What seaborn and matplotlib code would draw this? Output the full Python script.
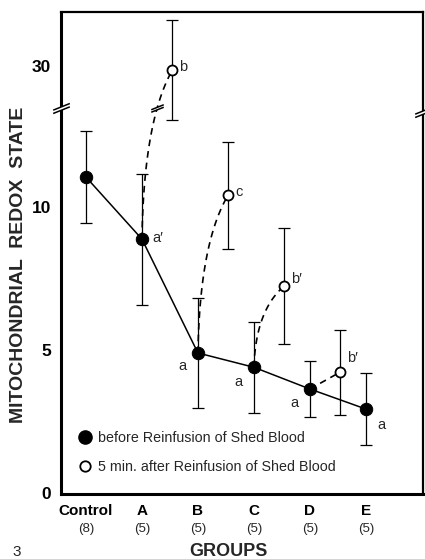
import numpy as np
import pandas as pd
import matplotlib
matplotlib.use("Agg")
import matplotlib.pyplot as plt
from matplotlib.lines import Line2D
from matplotlib.path import Path
import seaborn as sns

sns.set_style("white")
plt.rcParams["font.family"] = ["Liberation Sans", "DejaVu Sans"]

# values
groups = ["Control", "A", "B", "C", "D", "E"]
group_n = ["(8)", "(5)", "(5)", "(5)", "(5)", "(5)"]

before_mean = [11.05, 8.88, 4.9, 4.4, 3.64, 2.94]
before_sd = [1.6, 2.29, 1.93, 1.6, 0.98, 1.27]
before_tag = ["", "a\u2032", "a", "a", "a", "a"]

after_group = ["A", "B", "C", "D"]
after_mean = [29.85, 10.42, 7.24, 4.23]
after_sd = [1.75, 1.87, 2.03, 1.49]
after_tag = ["b", "c", "b\u2032", "b\u2032"]

# broken y axis: values around 30 are drawn shifted down
BREAK_AT = 13.46
SHIFT = 15.07


def squash(v):
    v = np.asarray(v, dtype=float)
    return np.where(v > 20, v - SHIFT, v)


# break marker "//" shapes
SLASH = Path([(-1, -0.6), (1, 0.2), (-1, -0.2), (1, 0.6)],
             [Path.MOVETO, Path.LINETO, Path.MOVETO, Path.LINETO])
GAP = Path([(-1, -0.6), (1, 0.2), (1, 0.6), (-1, -0.2), (-1, -0.6)],
           [Path.MOVETO, Path.LINETO, Path.LINETO, Path.LINETO, Path.CLOSEPOLY])


def break_mark(ax, x, y, size, transform):
    ax.plot([x], [y], marker=GAP, ms=size, mfc="white", mec="white", mew=0,
            transform=transform, clip_on=False, zorder=6)
    ax.plot([x], [y], marker=SLASH, ms=size, mfc="none", mec="black", mew=1.1,
            transform=transform, clip_on=False, zorder=7)


fig = plt.figure(figsize=(4.25, 5.59), dpi=100)
ax = fig.add_axes([61 / 425, 1 - 494 / 559, 362 / 425, 482 / 559])

x_before = np.arange(len(groups))
y_before = squash(before_mean)
x_after = np.array([groups.index(g) for g in after_group]) + 0.54
y_after = squash(after_mean)

df_before = pd.DataFrame({"x": x_before, "y": y_before})
df_after = pd.DataFrame({"x": x_after, "y": y_after})

# dashed curves from the "before" point up to the "after" point
for i, g in enumerate(after_group):
    j = groups.index(g)
    x0, y0, x1, y1 = x_before[j], y_before[j], x_after[i], y_after[i]
    t = np.linspace(0, 1, 60)
    if y1 - y0 > 1.5:
        cx, cy = x0 + 0.06 * (x1 - x0), y0 + 0.7 * (y1 - y0)
    else:
        cx, cy = (x0 + x1) / 2, (y0 + y1) / 2
    bx = (1 - t) ** 2 * x0 + 2 * (1 - t) * t * cx + t ** 2 * x1
    by = (1 - t) ** 2 * y0 + 2 * (1 - t) * t * cy + t ** 2 * y1
    ax.plot(bx, by, ls=(0, (4, 3)), color="black", lw=1.2, zorder=2)
    if y1 > BREAK_AT > y0:
        k = np.argmin(np.abs(by - BREAK_AT))
        break_mark(ax, bx[k], by[k], 9, ax.transData)

sns.lineplot(data=df_before, x="x", y="y", color="black", lw=1.1, ax=ax, zorder=3)
ax.errorbar(x_before, y_before, yerr=before_sd, fmt="none", ecolor="black",
            elinewidth=0.9, capsize=4.5, capthick=0.9, zorder=4)
ax.errorbar(x_after, y_after, yerr=after_sd, fmt="none", ecolor="black",
            elinewidth=0.9, capsize=4.5, capthick=0.9, zorder=4)
sns.scatterplot(data=df_before, x="x", y="y", color="black", edgecolor="black",
                s=80, ax=ax, zorder=5)
sns.scatterplot(data=df_after, x="x", y="y", color="white", edgecolor="black",
                linewidth=1.3, s=52, ax=ax, zorder=5)

# significance letters
tag_offset = [(0, 0), (0.28, 0.05), (-0.28, -0.45), (-0.28, -0.5), (-0.28, -0.5), (0.28, -0.55)]
for x, y, tag, (dx, dy) in zip(x_before, y_before, before_tag, tag_offset):
    if tag:
        ax.text(x + dx, y + dy, tag, fontsize=10.5, ha="center", va="center")
after_offset = [(0.2, 0.1), (0.2, 0.1), (0.22, 0.25), (0.22, 0.5)]
for x, y, tag, (dx, dy) in zip(x_after, y_after, after_tag, after_offset):
    ax.text(x + dx, y + dy, tag, fontsize=10.5, ha="center", va="center")

ax.set_xlim(-0.446, 6.02)
ax.set_ylim(-0.03, 16.82)
ax.set_yticks([0, 5, 10, squash(30).item()])
ax.set_yticklabels(["0", "5", "10", "30"], fontsize=12.5, fontweight="bold")
ax.set_xticks(x_before)
ax.set_xticklabels(groups, fontsize=11, fontweight="bold")
ax.tick_params(axis="both", direction="in", length=5, width=1, colors="black")
ax.tick_params(axis="y", pad=7)
ax.tick_params(axis="x", pad=7)
ax.set_xlabel("")
ax.set_ylabel("")
for side, s in ax.spines.items():
    s.set_color("black")
    s.set_linewidth(2.2 if side in ("left", "bottom") else 1.6)

for x, n in zip(x_before, group_n):
    ax.text(x, -0.072, n, fontsize=9.5, ha="center", va="center",
            transform=ax.get_xaxis_transform())

break_mark(ax, 0, BREAK_AT, 12, ax.get_yaxis_transform())
break_mark(ax, 1, 13.32, 12, ax.get_yaxis_transform())

handles = [
    Line2D([], [], ls="none", marker="o", ms=9.5, mfc="black", mec="black"),
    Line2D([], [], ls="none", marker="o", ms=7.5, mfc="white", mec="black", mew=1.3),
]
ax.legend(handles, ["before Reinfusion of Shed Blood",
                    "5 min. after Reinfusion of Shed Blood"],
          loc="lower left", bbox_to_anchor=(0.02, 0.02), frameon=False,
          fontsize=10.3, handlelength=1.0, handletextpad=0.35, labelspacing=1.05,
          borderaxespad=0.3)

fig.text(19 / 425, 1 - 265 / 559, "MITOCHONDRIAL  REDOX  STATE", rotation=90,
         ha="center", va="center", fontsize=14, fontweight="bold")
fig.text(228 / 425, 1 - 551 / 559, "GROUPS", ha="center", va="center",
         fontsize=13, fontweight="bold")
fig.text(17 / 425, 1 - 552 / 559, "3", ha="center", va="center", fontsize=11)

fig.savefig("out.png", dpi=100)
